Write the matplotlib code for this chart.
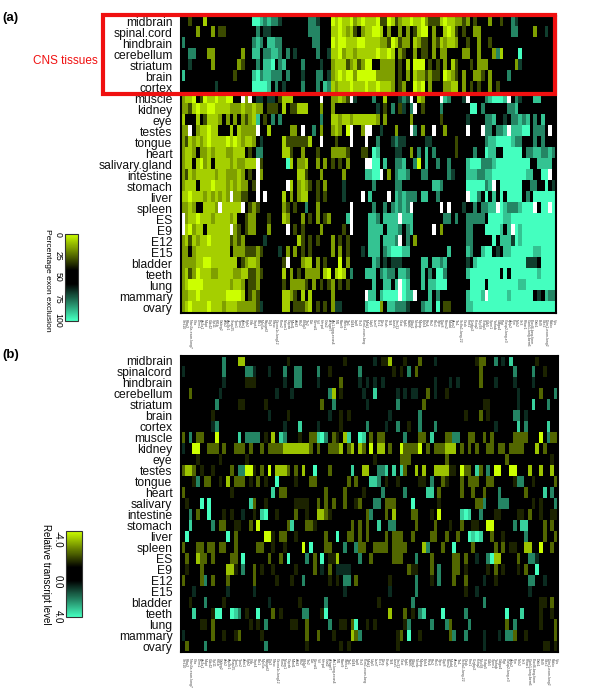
import numpy as np
import matplotlib
matplotlib.use('Agg')
import matplotlib.pyplot as plt
from matplotlib.cm import ScalarMappable
from matplotlib.colors import LinearSegmentedColormap, Normalize
from matplotlib.patches import Rectangle

plt.rcParams['font.family'] = ['Liberation Sans', 'DejaVu Sans']

W, H = 600, 696

tissues_a = ['midbrain', 'spinal.cord', 'hindbrain', 'cerebellum', 'striatum', 'brain', 'cortex',
             'muscle', 'kidney', 'eye', 'testes', 'tongue', 'heart', 'salivary.gland', 'intestine',
             'stomach', 'liver', 'spleen', 'ES', 'E9', 'E12', 'E15', 'bladder', 'teeth', 'lung',
             'mammary', 'ovary']
tissues_b = ['midbrain', 'spinalcord', 'hindbrain', 'cerebellum', 'striatum', 'brain', 'cortex',
             'muscle', 'kidney', 'eye', 'testes', 'tongue', 'heart', 'salivary', 'intestine',
             'stomach', 'liver', 'spleen', 'ES', 'E9', 'E12', 'E15', 'bladder', 'teeth', 'lung',
             'mammary', 'ovary']

# the column names are too small to read in the picture, lengths are estimates
gene_labels = ('Sfrs10 Ptbp2 Nrxn3a-exon-long7 Clta Dnm1 Ap2a1 Mapt Cdc42 Syt11 Kif1b '
               'Gabrg2 Ank2 Atp2b1 Snap25 Tpm1 Tpm2 Actn1 Fgfr2 Cltb Sept4 '
               'Bin1 Myo5a Rapgef2 Dlg3 Nfasc Cacna1c-long12 Pkm2 Ncam1 Capzb Mbnl1 '
               'Add3 Ptk2 Eif4g3 Tln2 Dst Ctnnd1 Vcl Hnrpd Gria2 Arhgef7 '
               'Abi1-long-exon4 Nf1 Rbm9 Sorbs1 Tjp1 Cd44 Lrp8 Stx3 Pcm1-exon-long Mink1 '
               'Usp5 Lsm7 Erc1 Dtna Enah Tcf4 Lass5 Sec31 Cast Itgb1 '
               'Rab6 Ctbp1 Numb Mprip Epb4 Rtn4 Pfn2 Pbx1 Sgce Dpp8 '
               'Rims2 Madd Atxn2 Tia1 Slc8a1-long-22 Cask Fmr1 Cugbp2 Kcnq2 Nup98 '
               'Stxbp5 Cdk5 Syne1 Ywhab Golga4 Pigt Clasp2-long-e3 Aplp2 Fyn Nck2 '
               'Sh3 Prkar1 Csnk1-long-form6 Elavl4-long-form Dab1 Bcl9 Ube2 Dctn1-exon-long2 Rbfox Vps').split()

# levels read by eye: 1 bright yellow .. 4 dark olive, . black, 6 dark teal .. 9 bright teal, _ missing
exclusion_rows = [
    '..4...2... .........9 9878776... ....776... 1212213212 2214412432 2122134442 1223343.4. ..3..4..76 ..........',
    '....3...3. 44........ 7.66...... ....777... 2212324.32 2112.3..3. 3.4211.3.. 2124.4..33 ........77 ....3..6..',
    '7......... .........7 87.8877... .....77... 1211222112 2223341243 3.2344.342 3223..4..3 ..4....... ..........',
    '..77...33. ......3..8 8.77887.7. 6.....7..6 2213223222 2212212.34 ..3.44.3.3 3....33..3 ...372.... 9.........',
    '..6.....3. .....34... 7.889.78.. ..7....6.. 3222432431 1..3333.4. 2.111.4.4. 3.24...4.3 33.......3 6.........',
    '8......... ....4....8 9788777.7. ..6...77.6 3212113111 1133333.4. 3.2334344. 1234.3..33 4.3....7.. ..........',
    '.........6 .........9 9998.7.6.. ..7...7.87 2322212221 2212223.43 ..121.3... 3322.3.4.4 ..3.4..... ..........',
    '3221.41221 2211.._3_. 66.66.4222 ......._.. 33234_6... .7..2...67 6_.23...._ 87...6_... .789998_.7 6...88....',
    '3342122112 2223332332 33.444.2.4 4222...3.. 3......... ..6.4.7.46 .7_.4....7 .......99. 7......778 ..........',
    '2...2.4222 3.3.3.3432 8.4.7.7... .......7.. 2232232222 223.3..... .3.......4 ......6... .778..6.77 878.7.8...',
    '33_.322122 ...2.23333 _..2.....3 3._..7.3.. 323.1_..3_ _..6...3.. ._7.3.._.. 3....._... _77.778_88 899.777._.',
    '3423232122 2212123223 .6.....244 44442.._.. .4..._..._ ..7...6766 .....66... ...4...... .788999987 7...7.7...',
    '3223.33232 2233222.4. 77.....224 ..3...4... 33334...44 .98....66. .3.7.8.7.. ...4....7. .988..9999 9.77887787',
    '322.2132.2 2223233222 _4......92 .332..3.3. 4.4.3...._ _99.8..778 ..71.8..7. .7....8999 7778999999 999..8888.',
    '3423222223 2233323.4. _3........ .224...3.. ...3.....8 899_.3.788 7...77.... .76...8887 7889999999 9988..99_.',
    '3222.22212 22323233.4 _......._2 .3234.4.3. ...6...... .7.....77. .......887 ......9999 978_.99999 9..77..9.6',
    '2212223232 323_3344.. _._....2.3 .322..4.4. ...6...._. 8...._.878 777.88..7. ......_997 .9.8.9.999 9.7.999999',
    '3323..2223 _22222_.43 4......34. 4..7..3... ....._.... .7..7.7878 7_......._ ._...6..7. 7788_98777 8999_.99_9',
    '_322122232 22232..433 ...4...23. ..3.4.3.43 ....8_.... 887.8888_8 88........ 77.7..7777 7.99998899 9999999999',
    '_21322.222 222_34.433 ...3...._. 4.4....3.. ...4._.... 8888.8887. 78....._.3 ......77.. .99998.8_9 8999999999',
    '3242322122 2224343... ..6....... .24.4.4... 3.4.4..... 888.8887_. 7.3....... ......77.. ...9.88869 8999999999',
    '33.3222222 222.333444 34....6.3. 3.4.4..... 3.3.4...6. 888.789998 8......... .8....87.. 899.6.8899 9999889999',
    '3333221122 22222.4322 3......4_. ..322.3.4. ..1.3..... .87.6.666. ....88.887 8.....6.89 9999999999 99666.9999',
    '3243122233 2222332244 34.....2.3 .4.3333.21 .212.7...8 88.7877.88 7...8.7.99 7.....8999 99999.9.99 9999989999',
    '3211112222 2223223.44 3......4.3 3334.3.4.4 3.4.4..... .8..88.8_9 8...8.8899 9......999 9.99999999 8899999999',
    '3322122222 2211112.43 4......223 4.2.2..... 3........_ 88.89999_9 88_...8.7. ......8999 8_99999899 9999.6.877',
    '3212222122 2322233333 46.....22. 44432.4.4. 366......8 9993.88777 6...788.9. 44....8899 9999999999 9999999999',
]

expression_rows = [
    '.......... .7...22... ........4. .......... ...4...... .6.442...4 ...3...6.. ........43 3..7.6.8.. ....4.....',
    '6......... .7.....776 ...6...7.. 77....7..4 .......7.. ......4.4. 7.3....... .........3 ........7. ...7..4...',
    '.......... .6.....444 .......6.. 77....6... ..3....6.6 .6.6...... .......6.. .6.6.....3 ...6.5..6. ...6......',
    '..3....... 6......... .....6...6 .........7 2.4.....6. .8.....6.6 .66..3.6.. 4......... .........6 .....3...7',
    '.........7 .....44... ..4....... .......3.. 7........6 .......7.. ....3..... .......... 44.......6 ...8...7..',
    '........4. .......... ...6....4. .........6 ..4.4..... .....6.... ...7...... .....4...3 .4......77 .6........',
    '........67 .......... .......6.. .8....6... ..4......7 ....6..7.. 4..7...7.. .......... ...6.....8 .7.....8..',
    '3.7.33...1 .....8.777 7.4.2.87.. .4..33897. 34.28..98. 3.33.....7 ...33.8... 3377..33.. 3.3.....33 33...1.733',
    '6..11..333 .3..333.3. .3.3333222 22223.3..3 332.32.23. 1.22.3..13 3331.3.333 222.3.3.3. .33.33.333 3...2.3...',
    '....4..... 4......4.. .......... .......... .......... .4......33 3......... 3......... ......3... ........4.',
    '3223.4..4. ...3.77114 .3.1.2223. 3.2..9...3 .....8..22 ..778.8.83 ..2.2..222 244.133.83 .7.11..11. ..2..2..2.',
    '...47.33.. 4.2.333.4. 3.4..9.... 4...33.... ....3.3... 887.4..4.. ...44.7..3 4...3.333. .33.....47 7..4.....3',
    '3......... ...4...... ....8.33.. ........3. ...3....4. ...7.....7 .....88.3. ....3..3.. 3...7..... .3....8.7.',
    '.4...9.9.. ........83 ..4....... 4444..3.3. 3..3..43.. .77.333... .9......4. ........33 7...777... ...4.4...7',
    '..7.3..9.. .4.4..6..4 .89..4.... 3..4..2234 .........3 7...3.2... .33...4.1. ....898..7 ...44....4 4.3..4..44',
    '..8.....7. 33..44..3. 1.......38 ...334.... .....3.3.3 ..8..77... ..3....3.. .4..3..44. .11.....7. 88....3.3.',
    '.9........ ..9.3..... ..114.33.. 4.......3. .9..33.3.3 ....3.333. .3....33.. 3..3..9898 ..3..4.... .7....3..3',
    '3...33.33. 33..3..... 33..4..4.. ..1.9...33 ...7..733. .3333.3333 ....27...3 ..9....3.. ...3.3.44. .22..1..3.',
    '.3..233.3. ...33.9... ...3..3.9. ...7.3.9.4 42.....7.. 3.....333. ..7...3... ..33.3..6. .7922....3 ..776.....',
    '.4...3.... ..224.7..3 .4..4..... 4....3.6.3 .6666..... .......... 344...3.7. ..33.4.... .4.3.4...4 .3..9.....',
    '3....37.3. ..3......3 .....4...4 ..7......4 .4.77.3... .....4.... ..7...4.7. ..3..3.... 6..4...... ..77..6...',
    '...6...... ..6......6 .......... .......... ...6...... .....6.... ..7....... .....4..6. .......... ..6.......',
    '..4...7... .4........ ...6...... .4......7. .......... ..4....... .7........ .......... 7......... .....44.3.',
    '...8....49 9..987.4.. 9...3.4... ..77...49. .......... .....2...3 .4.78....9 .....7.... ......9... 8....4..4.',
    '.....44.3. ........4. 4.7......4 4..3.....7 ..44.39..4 .4.......4 7.....7... 73....7... ......3.7. .....4...3',
    '6.......3. .4..43.... .4........ ...3..3... 4....237.. .......43. 9..4...... .37..7.... 6...6.773. .4.......3',
    '.3....7... .......... ..7....... ...4...... ..4.4..... .......4.. .......... .......... 6......... ......44.4',
]

# percent exclusion for each level, panel (a)
level_a = {'1': 0, '2': 8, '3': 16, '4': 30, '5': 50, '.': 50, '6': 68, '7': 80, '8': 90, '9': 100, '_': np.nan}
# relative level for panel (b), the same letters but dimmer marks in the middle
level_b = {'1': -4.0, '2': -3.2, '3': -2.0, '4': -1.1, '5': 0.0, '.': 0.0, '6': 1.2, '7': 2.4, '8': 3.4, '9': 4.0,
           '_': np.nan}

exon_ticks = [0, 25, 50, 75, 100]
transcript_ticks = [-4.0, 0.0, 4.0]

cmap = LinearSegmentedColormap.from_list('yb', [(0, (0.8, 1, 0)), (0.42, (0, 0, 0)), (0.58, (0, 0, 0)),
                                                (1, (0.27, 1, 0.75))])
cmap.set_bad('white')


def to_matrix(rows, levels):
    out = []
    for r in rows:
        r = r.replace(' ', '').ljust(100, '.')[:100]
        out.append([levels[c] for c in r])
    return np.array(out, dtype=float)


def px_axes(fig, x0, y0, x1, y1):
    return fig.add_axes([x0 / W, 1 - y1 / H, (x1 - x0) / W, (y1 - y0) / H])


def heatmap(fig, box, matrix, labels, vmin, vmax):
    ax = px_axes(fig, *box)
    ax.imshow(matrix, cmap=cmap, vmin=vmin, vmax=vmax, aspect='auto', interpolation='nearest')
    ax.set_yticks(range(len(labels)))
    ax.set_yticklabels(labels, fontsize=8.7, color='#111111')
    ax.set_xticks(range(100))
    ax.set_xticklabels(gene_labels, fontsize=2.5, rotation=-90, color='#444444')
    ax.tick_params(axis='both', length=0)
    ax.tick_params(axis='y', pad=5.8)
    ax.tick_params(axis='x', pad=4.5)
    for s in ax.spines.values():
        s.set_color('black')
        s.set_linewidth(1.5)
    return ax


def colorbar(fig, box, vmin, vmax):
    cax = px_axes(fig, *box)
    cb = fig.colorbar(ScalarMappable(Normalize(vmin, vmax), cmap), cax=cax)
    cax.invert_yaxis()
    cb.set_ticks([])
    cb.outline.set_linewidth(0.8)
    cb.outline.set_edgecolor('#333333')
    return cax


fig = plt.figure(figsize=(W / 100, H / 100), dpi=100)

heatmap(fig, (180.5, 16.2, 555.5, 312.5), to_matrix(exclusion_rows, level_a), tissues_a, 0, 100)
heatmap(fig, (180.5, 355.5, 557.5, 652), to_matrix(expression_rows, level_b), tissues_b, -4, 4)

fig.add_artist(Rectangle((103 / W, 1 - 94 / H), 452 / W, 79.5 / H, transform=fig.transFigure, fill=False,
                         edgecolor='#f01010', linewidth=3, zorder=5))

fig.text(2 / W, 1 - 18 / H, '(a)', fontsize=9.5, fontweight='bold', va='center')
fig.text(2 / W, 1 - 355 / H, '(b)', fontsize=9.5, fontweight='bold', va='center')
fig.text(33 / W, 1 - 61 / H, 'CNS tissues', fontsize=8.5, color='#f01010', va='center')

cax = colorbar(fig, (64.5, 234, 78, 320.5), 0, 100)
for t in exon_ticks:
    cax.text(-0.5, t, str(t), transform=cax.get_yaxis_transform(), rotation=-90, fontsize=6.3,
             ha='center', va='center')
fig.text(47 / W, 1 - 280 / H, 'Percentage exon exclusion', rotation=-90, fontsize=6.1, ha='center', va='center')

cax = colorbar(fig, (66, 531, 81.5, 617), -4, 4)
cax.text(-0.55, transcript_ticks[0], '-4.0', transform=cax.get_yaxis_transform(), rotation=-90, fontsize=7,
         ha='center', va='top')
cax.text(-0.55, 0.7, '0.0', transform=cax.get_yaxis_transform(), rotation=-90, fontsize=7, ha='center', va='center')
cax.text(-0.55, transcript_ticks[2], '4.0', transform=cax.get_yaxis_transform(), rotation=-90, fontsize=7,
         ha='center', va='center')
fig.text(46 / W, 1 - 574 / H, 'Relative transcript level', rotation=-90, fontsize=7, ha='center', va='center')

fig.savefig('out.png', dpi=100)
